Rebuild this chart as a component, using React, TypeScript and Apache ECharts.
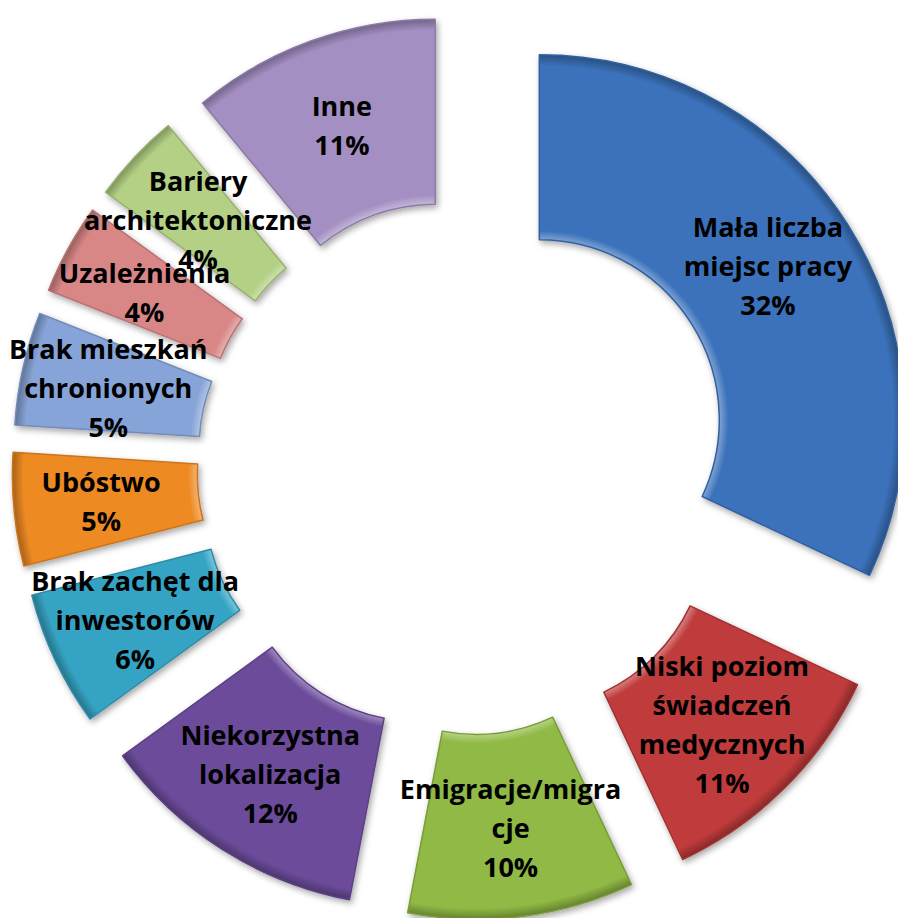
import React, { useEffect, useRef } from "react";
import * as echarts from "echarts";

const categories = [
  "Mała liczba\nmiejsc pracy",
  "Niski poziom\nświadczeń\nmedycznych",
  "Emigracje/migra\ncje",
  "Niekorzystna\nlokalizacja",
  "Brak zachęt dla\ninwestorów",
  "Ubóstwo",
  "Brak mieszkań\nchronionych",
  "Uzależnienia",
  "Bariery\narchitektoniczne",
  "Inne",
];
const values = [32, 11, 10, 12, 6, 5, 5, 4, 4, 11];
const colors = [
  "#3b72bb",
  "#c03b3b",
  "#90b944",
  "#6c4b9b",
  "#36a4c4",
  "#ee8a24",
  "#87a4d8",
  "#d88686",
  "#b3d084",
  "#a48fc3",
];
const labelShifts: number[][] = [
  [-4, -7],
  [0, 0],
  [0, 0],
  [0, 0],
  [-1, -2],
  [-2, 0],
  [-2, 0],
  [-2, 0],
  [-2, 1],
  [0, 0],
];

function shade(hex: string, f: number): string {
  const n = parseInt(hex.slice(1), 16);
  let r = (n >> 16) & 255, g = (n >> 8) & 255, b = n & 255;
  if (f >= 0) {
    r = Math.round(r + (255 - r) * f);
    g = Math.round(g + (255 - g) * f);
    b = Math.round(b + (255 - b) * f);
  } else {
    r = Math.round(r * (1 + f));
    g = Math.round(g * (1 + f));
    b = Math.round(b * (1 + f));
  }
  return `rgb(${r},${g},${b})`;
}

const CX = 465;
const CY = 467;
const R_IN = 180;
const R_OUT = 365;

export default function App() {
  const ref = useRef<HTMLDivElement>(null);
  useEffect(() => {
    if (!ref.current) return;
    const chart = echarts.init(ref.current, undefined, { renderer: "svg" });
    const k = R_IN / R_OUT;
    const data = values.map((v, i) => ({
      name: categories[i],
      value: v,
      selected: true,
      itemStyle: {
        color: {
          type: "radial",
          x: CX,
          y: CY,
          r: R_OUT,
          global: true,
          colorStops: [
            { offset: k, color: shade(colors[i], 0.35) },
            { offset: k + 0.025, color: colors[i] },
            { offset: 0.97, color: colors[i] },
            { offset: 1, color: shade(colors[i], -0.3) },
          ],
        },
        borderColor: shade(colors[i], -0.15),
        borderWidth: 1.5,
        shadowBlur: 6,
        shadowOffsetX: 2,
        shadowOffsetY: 3,
        shadowColor: "rgba(0,0,0,0.35)",
      },
    }));
    chart.setOption({
      animation: false,
      backgroundColor: "#ffffff",
      series: [
        {
          type: "pie",
          center: [CX, CY],
          radius: [R_IN, R_OUT],
          startAngle: 90,
          clockwise: true,
          selectedMode: "multiple",
          selectedOffset: 88,
          avoidLabelOverlap: false,
          labelLayout: (p: any) => {
            const s = labelShifts[p.dataIndex] || [0, 0];
            return { dx: s[0], dy: s[1], hideOverlap: false };
          },
          emphasis: { disabled: true },
          label: {
            show: true,
            position: "inside",
            overflow: "none",
            formatter: (p: any) => `${p.name}\n${p.value}%`,
            color: "#000000",
            fontFamily: "Open Sans",
            fontWeight: "bold",
            fontSize: 27,
            lineHeight: 39,
            align: "center",
          },
          labelLine: { show: false },
          data,
        },
      ],
    });
    return () => chart.dispose();
  }, []);
  return (
    <div
      ref={ref}
      style={{ position: "absolute", left: 0, top: 0, width: 898, height: 918 }}
    />
  );
}
